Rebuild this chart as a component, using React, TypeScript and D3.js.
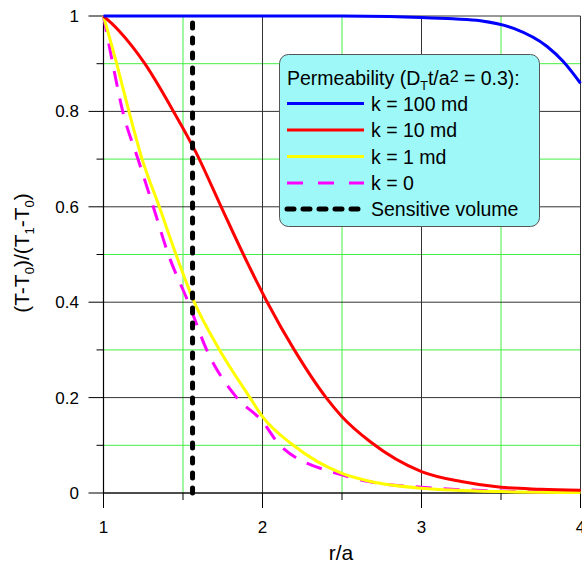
import React from "react";
import * as d3 from "d3";

// ---- data ----
const blueR = [1.0, 2.5, 2.8, 3.0, 3.2, 3.37, 3.58, 3.79, 3.89, 4.0];
const blueV = [1.0, 1.0, 0.999, 0.997, 0.994, 0.99, 0.974, 0.936, 0.905, 0.859];

const redR = [1.0, 1.05, 1.1, 1.26, 1.44, 1.58, 1.74, 1.88, 2.03, 2.2, 2.4, 2.5, 2.68, 3.0, 3.25, 3.5, 3.75, 4.0];
const redV = [1.0, 0.985, 0.968, 0.9, 0.8, 0.715, 0.6, 0.5, 0.4, 0.3, 0.2, 0.16, 0.107, 0.045, 0.024, 0.012, 0.008, 0.006];

const yellowR = [1.0, 1.083, 1.16, 1.243, 1.351, 1.456, 1.571, 1.73, 1.921, 2.0, 2.194, 2.5, 2.68, 3.0, 3.5, 4.0];
const yellowV = [1.0, 0.9, 0.8, 0.7, 0.6, 0.5, 0.4, 0.3, 0.2, 0.16, 0.1, 0.041, 0.024, 0.01, 0.003, 0.001];

const magentaR = [1.0, 1.058, 1.121, 1.217, 1.313, 1.408, 1.533, 1.649, 1.838, 2.0, 2.11, 2.5, 2.67, 3.0, 3.5, 4.0];
const magentaV = [1.0, 0.9, 0.8, 0.7, 0.6, 0.5, 0.4, 0.3, 0.2, 0.15, 0.1, 0.038, 0.024, 0.012, 0.004, 0.001];

const sensitiveR = [1.56, 1.56];
const sensitiveV = [0.0, 0.99];

const xMajor = [1, 2, 3, 4];
const xMinor = [1.5, 2.5, 3.5];
const yMajor = [0, 0.2, 0.4, 0.6, 0.8, 1];
const yMajorLabels = ["0", "0.2", "0.4", "0.6", "0.8", "1"];
const yMinor = [0.1, 0.3, 0.5, 0.7, 0.9];

const legendLabels = ["k = 100 md", "k = 10 md", "k = 1 md", "k = 0", "Sensitive volume"];

const FONT = "'Liberation Sans', Arial, sans-serif";

export default function App() {
  const x = d3.scaleLinear().domain([1, 4]).range([103.5, 580.5]);
  const y = d3.scaleLinear().domain([0, 1]).range([493, 16]);

  const line = d3
    .line<[number, number]>()
    .x((d) => x(d[0]))
    .y((d) => y(d[1]))
    .curve(d3.curveMonotoneX);
  const straight = d3
    .line<[number, number]>()
    .x((d) => x(d[0]))
    .y((d) => y(d[1]));

  const zip = (a: number[], b: number[]) => a.map((v, i) => [v, b[i]] as [number, number]);

  const [x0, x1] = x.range();
  const [y0, y1] = y.range();

  const legendStyles = [
    { stroke: "#0000ff", dash: undefined as string | undefined, width: 3, cap: "butt" },
    { stroke: "#ff0000", dash: undefined, width: 3, cap: "butt" },
    { stroke: "#ffff00", dash: undefined, width: 3, cap: "butt" },
    { stroke: "#ff00ff", dash: "16,15", width: 3, cap: "butt" },
    { stroke: "#000000", dash: "7,9", width: 5, cap: "round" },
  ];
  const legY = [103.5, 130, 156.5, 183, 209];

  return (
    <div style={{ position: "absolute", left: 0, top: 0 }}>
      <svg width={582} height={567} style={{ display: "block", background: "#fff" }} fontFamily={FONT}>
        {/* minor grid */}
        {xMinor.map((v) => (
          <line key={"xm" + v} x1={x(v)} x2={x(v)} y1={y0} y2={y1} stroke="#44ee44" strokeWidth={1} />
        ))}
        {yMinor.map((v) => (
          <line key={"ym" + v} x1={x0} x2={x1} y1={y(v)} y2={y(v)} stroke="#44ee44" strokeWidth={1} />
        ))}
        {/* major grid */}
        {xMajor.map((v) => (
          <line key={"xg" + v} x1={x(v)} x2={x(v)} y1={y0} y2={y1} stroke="#333" strokeWidth={1} />
        ))}
        {yMajor.map((v) => (
          <line key={"yg" + v} x1={x0} x2={x1} y1={y(v)} y2={y(v)} stroke="#333" strokeWidth={1} />
        ))}
        {/* axes */}
        <line x1={x0} x2={x0} y1={y0} y2={y1} stroke="#000" strokeWidth={1.2} />
        <line x1={x0} x2={x1} y1={y0} y2={y0} stroke="#000" strokeWidth={1.2} />
        {/* ticks */}
        {yMajor.map((v) => (
          <line key={"yt" + v} x1={x0 - 15} x2={x0} y1={y(v)} y2={y(v)} stroke="#000" strokeWidth={1} />
        ))}
        {yMinor.map((v) => (
          <line key={"ytm" + v} x1={x0 - 7} x2={x0} y1={y(v)} y2={y(v)} stroke="#000" strokeWidth={1} />
        ))}
        {xMajor.map((v) => (
          <line key={"xt" + v} x1={x(v)} x2={x(v)} y1={y0} y2={y0 + 15} stroke="#000" strokeWidth={1} />
        ))}
        {xMinor.map((v) => (
          <line key={"xtm" + v} x1={x(v)} x2={x(v)} y1={y0} y2={y0 + 7} stroke="#000" strokeWidth={1} />
        ))}
        {/* tick labels */}
        {yMajor.map((v, i) => (
          <text key={"yl" + v} x={79} y={y(v) + 6} textAnchor="end" fontSize={17} fill="#000">
            {yMajorLabels[i]}
          </text>
        ))}
        {xMajor.map((v) => (
          <text key={"xl" + v} x={x(v)} y={533} textAnchor="middle" fontSize={17} fill="#000">
            {String(v)}
          </text>
        ))}
        {/* axis titles */}
        <text x={341} y={560} textAnchor="middle" fontSize={21} fill="#000">
          r/a
        </text>
        <text transform="translate(29,253) rotate(-90)" textAnchor="middle" fontSize={21} fill="#000">
          (T-T<tspan dy={5} fontSize={13}>0</tspan>
          <tspan dy={-5}>)/(T</tspan>
          <tspan dy={5} fontSize={13}>1</tspan>
          <tspan dy={-5}>-T</tspan>
          <tspan dy={5} fontSize={13}>0</tspan>
          <tspan dy={-5}>)</tspan>
        </text>

        {/* curves */}
        <path d={line(zip(magentaR, magentaV)) || ""} fill="none" stroke="#ff00ff" strokeWidth={3} strokeDasharray="16,12" />
        <path d={line(zip(yellowR, yellowV)) || ""} fill="none" stroke="#ffff00" strokeWidth={3} />
        <path d={line(zip(redR, redV)) || ""} fill="none" stroke="#ff0000" strokeWidth={3} />
        <path d={line(zip(blueR, blueV)) || ""} fill="none" stroke="#0000ff" strokeWidth={3} />
        <path
          d={straight(zip(sensitiveR, sensitiveV)) || ""}
          fill="none"
          stroke="#000"
          strokeWidth={5}
          strokeDasharray="5,10"
          strokeLinecap="round"
        />

        {/* legend */}
        <rect x={279.5} y={54.5} width={260} height={172} rx={9} ry={9} fill="#9ef8f8" stroke="#555" strokeWidth={1} />
        <text x={287} y={85} fontSize={19.5} fill="#000">
          Permeability (D<tspan dy={4.5} fontSize={12.5}>T</tspan>
          <tspan dy={-4.5}>t/a</tspan>
          <tspan dy={-3.5} fontSize={16}>2</tspan>
          <tspan dy={3.5}> = 0.3):</tspan>
        </text>
        {legendLabels.map((lab, i) => (
          <g key={lab}>
            <line
              x1={287}
              x2={364}
              y1={legY[i]}
              y2={legY[i]}
              stroke={legendStyles[i].stroke}
              strokeWidth={legendStyles[i].width}
              strokeDasharray={legendStyles[i].dash}
              strokeLinecap={legendStyles[i].cap as any}
            />
            <text x={371} y={legY[i] + 7} fontSize={19.5} fill="#000">
              {lab}
            </text>
          </g>
        ))}
      </svg>
    </div>
  );
}
